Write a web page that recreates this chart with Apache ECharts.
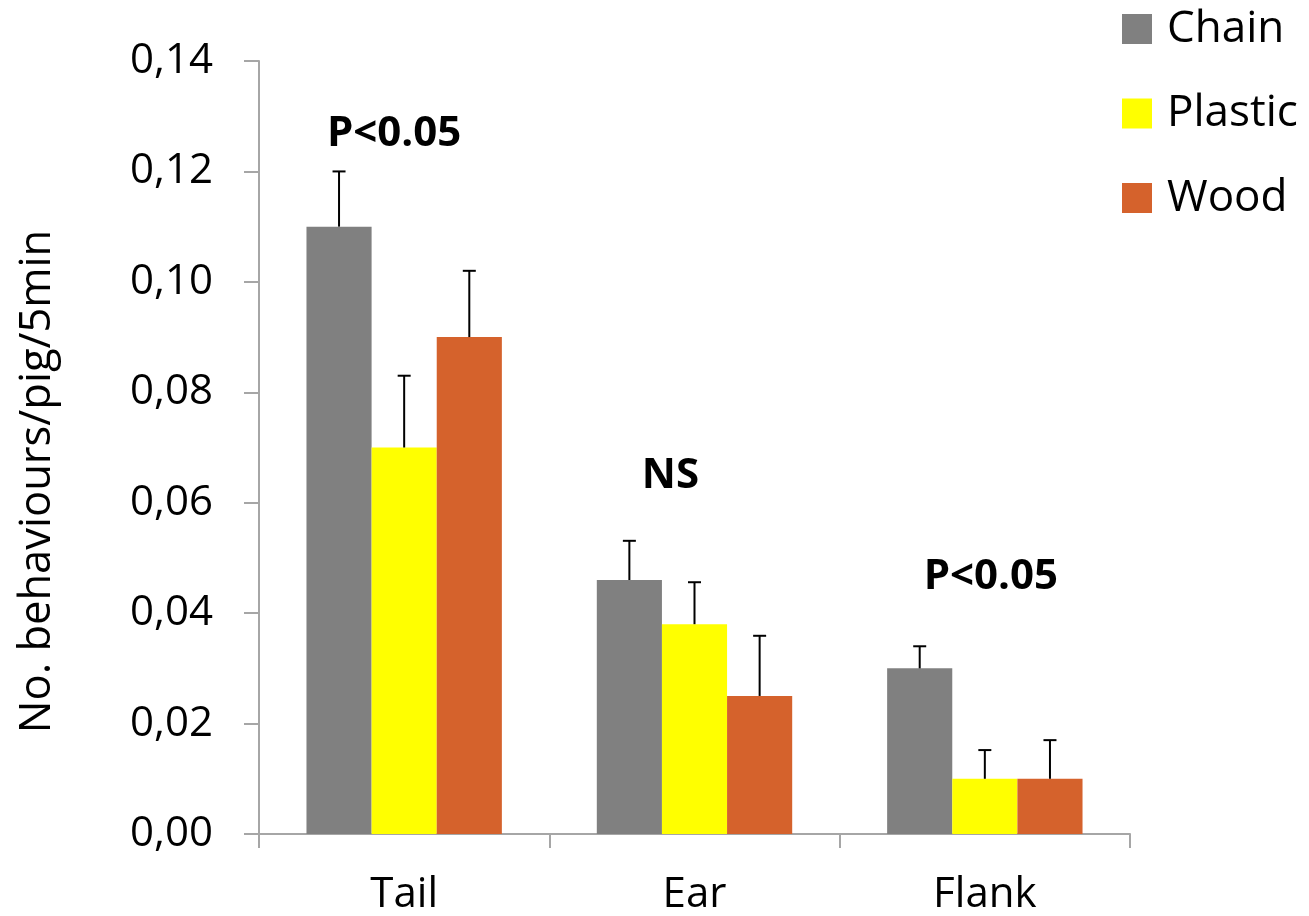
<!DOCTYPE html>
<html>
<head>
<meta charset="utf-8">
<style>
  html, body { margin: 0; padding: 0; background: #fff; }
  #chart { width: 1309px; height: 916px; }
</style>
<script src="https://cdn.jsdelivr.net/npm/echarts@6/dist/echarts.min.js"></script>
</head>
<body>
<div id="chart"></div>
<script>
// Body regions where the behaviour was directed
const categories = ['Tail', 'Ear', 'Flank'];

// Mean number of behaviours per pig per 5 min, by enrichment material
const seriesNames = ['Chain', 'Plastic', 'Wood'];
const chainMeans   = [0.110, 0.046, 0.030];
const plasticMeans = [0.070, 0.038, 0.010];
const woodMeans    = [0.090, 0.025, 0.010];

// Upper ends of the error bars (mean + SE)
const chainUpper   = [0.120, 0.0531, 0.034];
const plasticUpper = [0.083, 0.0456, 0.0152];
const woodUpper    = [0.102, 0.0359, 0.017];

// Significance notes above each group
const noteTexts  = ['P<0.05', 'NS', 'P<0.05'];
const noteLevels = [0.1268, 0.0648, 0.0465];

// Y axis ticks
const yMin = 0, yMax = 0.14, yStep = 0.02;

const colors = ['#808080', '#FFFF00', '#D5622C'];
const FONT = 'Open Sans, Lato, sans-serif';

const means = [chainMeans, plasticMeans, woodMeans];
const uppers = [chainUpper, plasticUpper, woodUpper];

const chart = echarts.init(document.getElementById('chart'));

// Bar geometry shared by bars and error bars
const BAR_CAT_GAP = 0.327;   // fraction of band left empty
function barCenterX(api, catIdx, seriesIdx) {
  const c = api.coord([catIdx, 0]);
  const band = api.size([1, 0])[0];
  const groupW = band * (1 - BAR_CAT_GAP);
  const barW = groupW / 3;
  return c[0] - groupW / 2 + barW * (seriesIdx + 0.5);
}

const barSeries = seriesNames.map((name, i) => ({
  name: name,
  type: 'bar',
  data: means[i],
  barGap: '0%',
  barCategoryGap: (BAR_CAT_GAP * 100) + '%',
  itemStyle: { color: colors[i] },
  silent: true
}));

const errorSeries = seriesNames.map((name, i) => ({
  type: 'custom',
  name: name + ' SE',
  silent: true,
  z: 5,
  data: categories.map((c, k) => [k, means[i][k], uppers[i][k]]),
  renderItem: function (params, api) {
    const k = api.value(0);
    const x = barCenterX(api, k, i);
    const yLow = api.coord([k, api.value(1)])[1];
    const yHigh = api.coord([k, api.value(2)])[1];
    const cap = 6.5;
    return {
      type: 'group',
      children: [
        { type: 'line', shape: { x1: x, y1: yLow, x2: x, y2: yHigh },
          style: { stroke: '#000', lineWidth: 2 } },
        { type: 'line', shape: { x1: x - cap, y1: yHigh, x2: x + cap, y2: yHigh },
          style: { stroke: '#000', lineWidth: 2 } }
      ]
    };
  }
}));

// Horizontal nudges for the notes, in pixels
const noteShift = [-10, -24, 6];
const noteSeries = {
  type: 'custom',
  silent: true,
  z: 6,
  data: noteTexts.map((t, k) => [k, noteLevels[k]]),
  renderItem: function (params, api) {
    const k = api.value(0);
    const p = api.coord([k, api.value(1)]);
    return {
      type: 'text',
      x: p[0] + noteShift[k],
      y: p[1],
      style: {
        text: noteTexts[k],
        fill: '#000',
        font: 'bold 42px ' + FONT,
        align: 'center',
        verticalAlign: 'middle'
      }
    };
  }
};

const axisGray = '#A6A6A6';

chart.setOption({
  animation: false,
  backgroundColor: '#fff',
  grid: { left: 259, right: 179, top: 61, bottom: 82, containLabel: false },
  legend: {
    data: seriesNames,
    orient: 'vertical',
    left: 1122,
    top: 7,
    padding: 0,
    itemWidth: 30,
    itemHeight: 30,
    itemGap: 40.5,
    icon: 'rect',
    selectedMode: false,
    textStyle: { fontSize: 44, lineHeight: 44, fontFamily: FONT, color: '#000', padding: [0, 0, 0, 10] }
  },
  xAxis: {
    type: 'category',
    data: categories,
    axisLine: { show: true, lineStyle: { color: axisGray, width: 2 } },
    axisTick: { show: true, length: 14, alignWithLabel: false, lineStyle: { color: axisGray, width: 2 } },
    axisLabel: { fontSize: 42, fontFamily: FONT, color: '#000', margin: 40 },
    splitLine: { show: false }
  },
  yAxis: {
    type: 'value',
    min: yMin,
    max: yMax,
    interval: yStep,
    name: 'No. behaviours/pig/5min',
    nameLocation: 'middle',
    nameGap: 199,
    nameRotate: 90,
    nameTextStyle: { fontSize: 43.5, fontFamily: FONT, color: '#000', padding: [0, 68, 0, 0] },
    axisLine: { show: true, lineStyle: { color: axisGray, width: 2 } },
    axisTick: { show: true, inside: false, length: 15, lineStyle: { color: axisGray, width: 2 } },
    axisLabel: {
      fontSize: 42, fontFamily: FONT, color: '#000', margin: 46,
      formatter: v => v.toFixed(2).replace('.', ',')
    },
    splitLine: { show: false }
  },
  series: [...barSeries, ...errorSeries, noteSeries]
});
</script>
</body>
</html>
